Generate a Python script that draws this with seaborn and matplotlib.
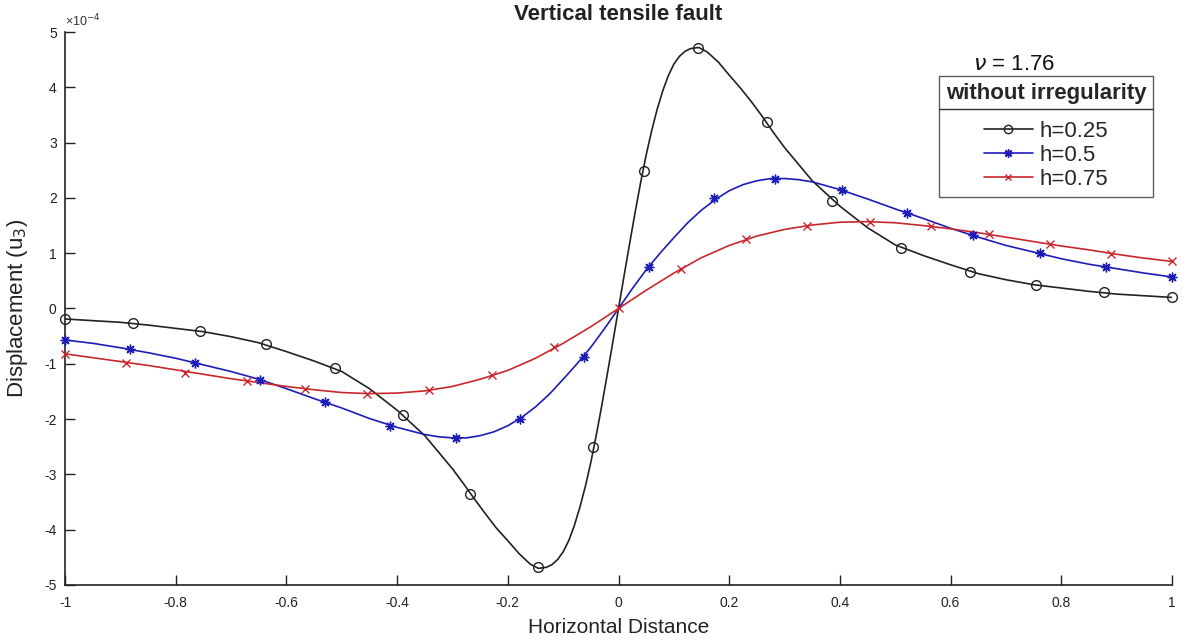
import matplotlib
matplotlib.use("Agg")
import matplotlib.pyplot as plt
from matplotlib.lines import Line2D
import seaborn as sns
import pandas as pd

# ---------------- data (values in units of 1e-4) ----------------
title = "Vertical tensile fault"
xlabel = "Horizontal Distance"
ylabel = "Displacement (u$_3$)"
legend_title = "without irregularity"
nu_text = "$\\nu$ = 1.76"
series_names = ["h=0.25", "h=0.5", "h=0.75"]

x_ticks = [-1, -0.8, -0.6, -0.4, -0.2, 0, 0.2, 0.4, 0.6, 0.8, 1]
x_tick_labels = ["-1", "-0.8", "-0.6", "-0.4", "-0.2", "0", "0.2", "0.4", "0.6", "0.8", "1"]
y_ticks = [-5, -4, -3, -2, -1, 0, 1, 2, 3, 4, 5]
y_tick_labels = ["-5", "-4", "-3", "-2", "-1", "0", "1", "2", "3", "4", "5"]

# curve h=0.25 (line)
line025_x = [-1, -0.95, -0.9, -0.85, -0.8, -0.75, -0.7, -0.65, -0.6, -0.55, -0.5, -0.45, -0.4,
             -0.35, -0.3, -0.28, -0.26, -0.24, -0.22, -0.2, -0.18, -0.16, -0.145, -0.13, -0.12,
             -0.11, -0.1, -0.09, -0.08, -0.07, -0.06, -0.05, -0.04, -0.03, -0.02, -0.01, 0,
             0.01, 0.02, 0.03, 0.04, 0.05, 0.06, 0.07, 0.08, 0.09, 0.1, 0.11, 0.12, 0.13, 0.145,
             0.16, 0.18, 0.2, 0.22, 0.24, 0.26, 0.28, 0.3, 0.35, 0.4, 0.45, 0.5,
             0.55, 0.6, 0.65, 0.7, 0.75, 0.8, 0.85, 0.9, 0.95, 1]
line025_y = [-0.19, -0.22, -0.25, -0.30, -0.36, -0.42, -0.51, -0.62, -0.78, -0.95, -1.14, -1.45, -1.84,
             -2.30, -2.90, -3.17, -3.45, -3.72, -3.98, -4.20, -4.43, -4.62, -4.70, -4.68, -4.63,
             -4.54, -4.40, -4.20, -3.93, -3.60, -3.22, -2.78, -2.28, -1.74, -1.17, -0.59, 0.0,
             0.59, 1.17, 1.74, 2.28, 2.78, 3.22, 3.61, 3.94, 4.21, 4.42, 4.56, 4.65, 4.70, 4.72,
             4.64, 4.46, 4.22, 3.99, 3.74, 3.47, 3.18, 2.91, 2.31, 1.85, 1.46, 1.15,
             0.96, 0.79, 0.63, 0.52, 0.43, 0.37, 0.31, 0.26, 0.23, 0.20]
# markers h=0.25
mark025_x = [-1.0, -0.878, -0.757, -0.637, -0.512, -0.39, -0.269, -0.145, -0.046,
             0.046, 0.143, 0.269, 0.385, 0.511, 0.635, 0.754, 0.878, 1.0]
mark025_y = [-0.19, -0.27, -0.41, -0.65, -1.08, -1.92, -3.35, -4.68, -2.50,
             2.48, 4.71, 3.38, 1.95, 1.09, 0.66, 0.42, 0.29, 0.20]

# curve h=0.5 (line)
line05_x = [-1, -0.95, -0.9, -0.85, -0.8, -0.75, -0.7, -0.65, -0.6, -0.55, -0.5, -0.45, -0.4,
            -0.35, -0.325, -0.3, -0.275, -0.25, -0.225, -0.2, -0.175, -0.15, -0.125, -0.1,
            -0.075, -0.05, -0.025, 0,
            0.025, 0.05, 0.075, 0.1, 0.125, 0.15, 0.175, 0.2, 0.225, 0.25, 0.275, 0.3, 0.325,
            0.35, 0.4, 0.45, 0.5, 0.55, 0.6, 0.65, 0.7, 0.75, 0.8, 0.85, 0.9, 0.95, 1]
line05_y = [-0.57, -0.63, -0.71, -0.80, -0.90, -1.02, -1.14, -1.28, -1.45, -1.63, -1.80, -1.99, -2.15,
            -2.28, -2.32, -2.34, -2.34, -2.30, -2.23, -2.12, -1.97, -1.78, -1.55, -1.28,
            -1.00, -0.70, -0.36, 0.0,
            0.36, 0.70, 1.00, 1.28, 1.55, 1.78, 1.97, 2.13, 2.24, 2.31, 2.35, 2.35, 2.33,
            2.29, 2.15, 1.98, 1.80, 1.63, 1.45, 1.29, 1.14, 1.02, 0.90, 0.80, 0.72, 0.64, 0.57]
mark05_x = [-1.0, -0.883, -0.766, -0.647, -0.53, -0.413, -0.294, -0.178, -0.063,
            0.055, 0.172, 0.283, 0.403, 0.522, 0.641, 0.761, 0.880, 1.0]
mark05_y = [-0.57, -0.74, -0.98, -1.29, -1.70, -2.12, -2.34, -2.00, -0.87,
            0.755, 1.99, 2.34, 2.14, 1.73, 1.33, 1.00, 0.755, 0.57]

# curve h=0.75 (line)
line075_x = [-1, -0.95, -0.9, -0.85, -0.8, -0.75, -0.7, -0.65, -0.6, -0.55, -0.5, -0.45, -0.4,
             -0.35, -0.3, -0.25, -0.2, -0.15, -0.1, -0.05, 0,
             0.05, 0.1, 0.15, 0.2, 0.25, 0.3, 0.35, 0.4, 0.45, 0.5, 0.55, 0.6, 0.65, 0.7, 0.75,
             0.8, 0.85, 0.9, 0.95, 1]
line075_y = [-0.82, -0.89, -0.96, -1.03, -1.11, -1.19, -1.27, -1.34, -1.41, -1.47, -1.52, -1.54, -1.53,
             -1.49, -1.41, -1.28, -1.12, -0.90, -0.63, -0.33, 0.0,
             0.33, 0.64, 0.92, 1.14, 1.31, 1.43, 1.51, 1.56, 1.57, 1.55, 1.50, 1.44, 1.37, 1.29, 1.21,
             1.13, 1.06, 0.98, 0.91, 0.85]
mark075_x = [-1.0, -0.889, -0.783, -0.672, -0.566, -0.455, -0.343, -0.228, -0.116, 0.0,
             0.113, 0.230, 0.341, 0.454, 0.564, 0.669, 0.780, 0.889, 1.0]
mark075_y = [-0.82, -0.98, -1.16, -1.31, -1.46, -1.54, -1.48, -1.20, -0.70, 0.0,
             0.72, 1.25, 1.49, 1.57, 1.49, 1.345, 1.16, 0.98, 0.85]

# ---------------- styling ----------------
sns.set_style("white")
plt.rcParams["font.family"] = ["Liberation Sans", "DejaVu Sans"]
plt.rcParams["mathtext.fontset"] = "dejavusans"

colors = ["#222222", "#1c1cb8", "#c8282d"]
markers = ["o", (8, 2, 0), "x"]
msizes = [7, 7, 6]

fig = plt.figure(figsize=(11.83, 6.40), dpi=100)
ax = fig.add_axes([0.055, 0.086, 0.9357, 0.864])

lines = [(line025_x, line025_y), (line05_x, line05_y), (line075_x, line075_y)]
marks = [(mark025_x, mark025_y), (mark05_x, mark05_y), (mark075_x, mark075_y)]

for i, name in enumerate(series_names):
    lx, ly = lines[i]
    df = pd.DataFrame({"x": lx, "y": ly})
    sns.lineplot(data=df, x="x", y="y", ax=ax, color=colors[i], lw=1.2,
                 sort=False, estimator=None, legend=False)
    mx, my = marks[i]
    ax.plot(mx, my, linestyle="none", marker=markers[i], markersize=msizes[i],
            markerfacecolor="none", markeredgecolor=colors[i], markeredgewidth=1.0,
            clip_on=False, zorder=5)

ax.set_xlim(-1, 1)
ax.set_ylim(-5, 5)
ax.set_xticks(x_ticks)
ax.set_xticklabels(x_tick_labels)
ax.set_yticks(y_ticks)
ax.set_yticklabels(y_tick_labels)
ax.tick_params(bottom=True, left=True, top=False, right=False,
               direction="in", length=7, width=1.0, labelsize=10, pad=6,
               colors="#222222")
ax.tick_params(axis="x", pad=8)

for s in ["top", "right"]:
    ax.spines[s].set_visible(False)
for s in ["left", "bottom"]:
    ax.spines[s].set_color("#222222")
    ax.spines[s].set_linewidth(1.2)

ax.set_xlabel(xlabel, fontsize=15, labelpad=6, color="#222222")
ax.set_ylabel(ylabel, fontsize=16, labelpad=10, color="#222222")
ax.set_title(title, fontsize=16, fontweight="bold", pad=9, color="#222222")

ax.text(0.0, 1.005, "\u00d710$^{-4}$", transform=ax.transAxes, fontsize=9,
        ha="left", va="bottom", color="#333333")

# legend
handles = [Line2D([0], [0], color=colors[i], lw=1.2, marker=markers[i], markersize=msizes[i] - 1,
                  markerfacecolor="none", markeredgecolor=colors[i]) for i in range(3)]
leg = ax.legend(handles, series_names, title=legend_title, loc="upper right",
                bbox_to_anchor=(0.9828, 0.920), frameon=True, fancybox=False,
                edgecolor="#333333", fontsize=16, title_fontsize=16,
                handlelength=2.2, handletextpad=0.3, borderpad=0.3, labelspacing=0.15,
                borderaxespad=0.0)
leg.get_title().set_fontweight("bold")
leg.get_frame().set_linewidth(1.0)
leg._legend_box.sep = 12

fig.canvas.draw()
renderer = fig.canvas.get_renderer()
lb = leg.get_window_extent(renderer)
tb = leg.get_title().get_window_extent(renderer)
ysep = tb.y0 - 5
inv = fig.transFigure.inverted()
(x0f, yf) = inv.transform((lb.x0, ysep))
(x1f, _) = inv.transform((lb.x1, ysep))
fig.add_artist(Line2D([x0f, x1f], [yf, yf], color="#333333", lw=1.0, transform=fig.transFigure))

# nu annotation above the legend
(nx, ny) = inv.transform((lb.x0 + 34, lb.y1 + 1))
fig.text(nx, ny, nu_text, fontsize=16, ha="left", va="bottom", color="#111111")

fig.savefig("out.png", dpi=100)
